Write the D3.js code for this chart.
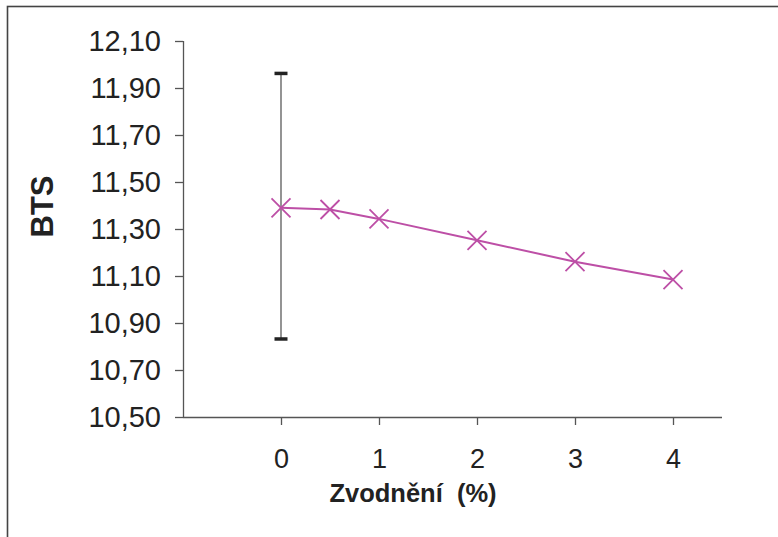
<!DOCTYPE html>
<html><head><meta charset="utf-8">
<script src="https://cdn.jsdelivr.net/npm/d3@7"></script>
<style>html,body{margin:0;padding:0;background:#fff;overflow:hidden}</style>
</head><body>
<script>
const xValues = [0, 0.5, 1, 2, 3, 4];
const btsValues = [11.39, 11.383, 11.343, 11.252, 11.161, 11.085];
const errorX = [0];
const errorLow = [10.832];
const errorHigh = [11.962];
const yTicks = [10.5, 10.7, 10.9, 11.1, 11.3, 11.5, 11.7, 11.9, 12.1];
const xTicks = [0, 1, 2, 3, 4];
const xTitle = "Zvodnění  (%)";
const yTitle = "BTS";

const W = 778, H = 537;
const svg = d3.select("body").append("svg").attr("width", W).attr("height", H)
  .style("font-family", "Liberation Sans, Arial, sans-serif");

// outer frame (clipped right/bottom)
svg.append("rect").attr("x", 7.5).attr("y", 6.5).attr("width", 800).attr("height", 600)
  .attr("fill", "none").attr("stroke", "#444").attr("stroke-width", 1.6);

const x = d3.scaleLinear().domain([-1, 4.5]).range([183, 722]);
const y = d3.scaleLinear().domain([10.5, 12.1]).range([417, 41]);

const fmt = d => d.toFixed(2).replace(".", ",");

const yAxis = svg.append("g").attr("transform", "translate(183,0)")
  .call(d3.axisLeft(y).tickValues(yTicks).tickFormat(fmt).tickSize(8).tickPadding(14));
yAxis.selectAll("text").attr("font-size", 29).attr("fill", "#222").attr("font-family", "Liberation Sans, Arial, sans-serif");

const xAxis = svg.append("g").attr("transform", "translate(0,417)")
  .call(d3.axisBottom(x).tickValues(xTicks).tickFormat(d3.format("d")).tickSize(8).tickPadding(24));
xAxis.selectAll("text").attr("font-size", 27).attr("fill", "#222").attr("font-family", "Liberation Sans, Arial, sans-serif");

[yAxis, xAxis].forEach(g => {
  g.select(".domain").attr("stroke", "#555").attr("stroke-width", 1.3);
  g.selectAll(".tick line").attr("stroke", "#555").attr("stroke-width", 1.3);
});
yAxis.select(".domain").attr("d", `M0.5,${y(12.1)}V${y(10.5)}`);
xAxis.select(".domain").attr("d", `M${x(-1)},0.5H${x(4.5)}`);

// titles
svg.append("text").attr("x", 413).attr("y", 502).attr("text-anchor", "middle")
  .attr("font-size", 25.5).attr("font-weight", "bold").attr("fill", "#222")
  .style("white-space", "pre").text(xTitle);
svg.append("text").attr("transform", "translate(53,206.5) rotate(-90)")
  .attr("text-anchor", "middle").attr("font-size", 31).attr("font-weight", "bold").attr("fill", "#222")
  .text(yTitle);

// error bars
const eb = svg.append("g");
errorX.forEach((xv, i) => {
  eb.append("line").attr("x1", x(xv)).attr("x2", x(xv)).attr("y1", y(errorHigh[i])).attr("y2", y(errorLow[i]))
    .attr("stroke", "#666").attr("stroke-width", 1.4);
  [errorHigh[i], errorLow[i]].forEach(v => {
    eb.append("line").attr("x1", x(xv) - 6.5).attr("x2", x(xv) + 6.5).attr("y1", y(v)).attr("y2", y(v))
      .attr("stroke", "#222").attr("stroke-width", 3.5);
  });
});

const col = "#bd4fa6";
const pts = xValues.map((v, i) => [v, btsValues[i]]);
svg.append("path").datum(pts)
  .attr("d", d3.line().x(d => x(d[0])).y(d => y(d[1])))
  .attr("fill", "none").attr("stroke", col).attr("stroke-width", 2);

const s = 9.5;
svg.append("g").selectAll("path.m").data(pts).join("path")
  .attr("d", d => { const cx = x(d[0]), cy = y(d[1]);
    return `M${cx - s},${cy - s}L${cx + s},${cy + s}M${cx - s},${cy + s}L${cx + s},${cy - s}`; })
  .attr("stroke", col).attr("stroke-width", 1.8).attr("fill", "none");
</script>
</body></html>
